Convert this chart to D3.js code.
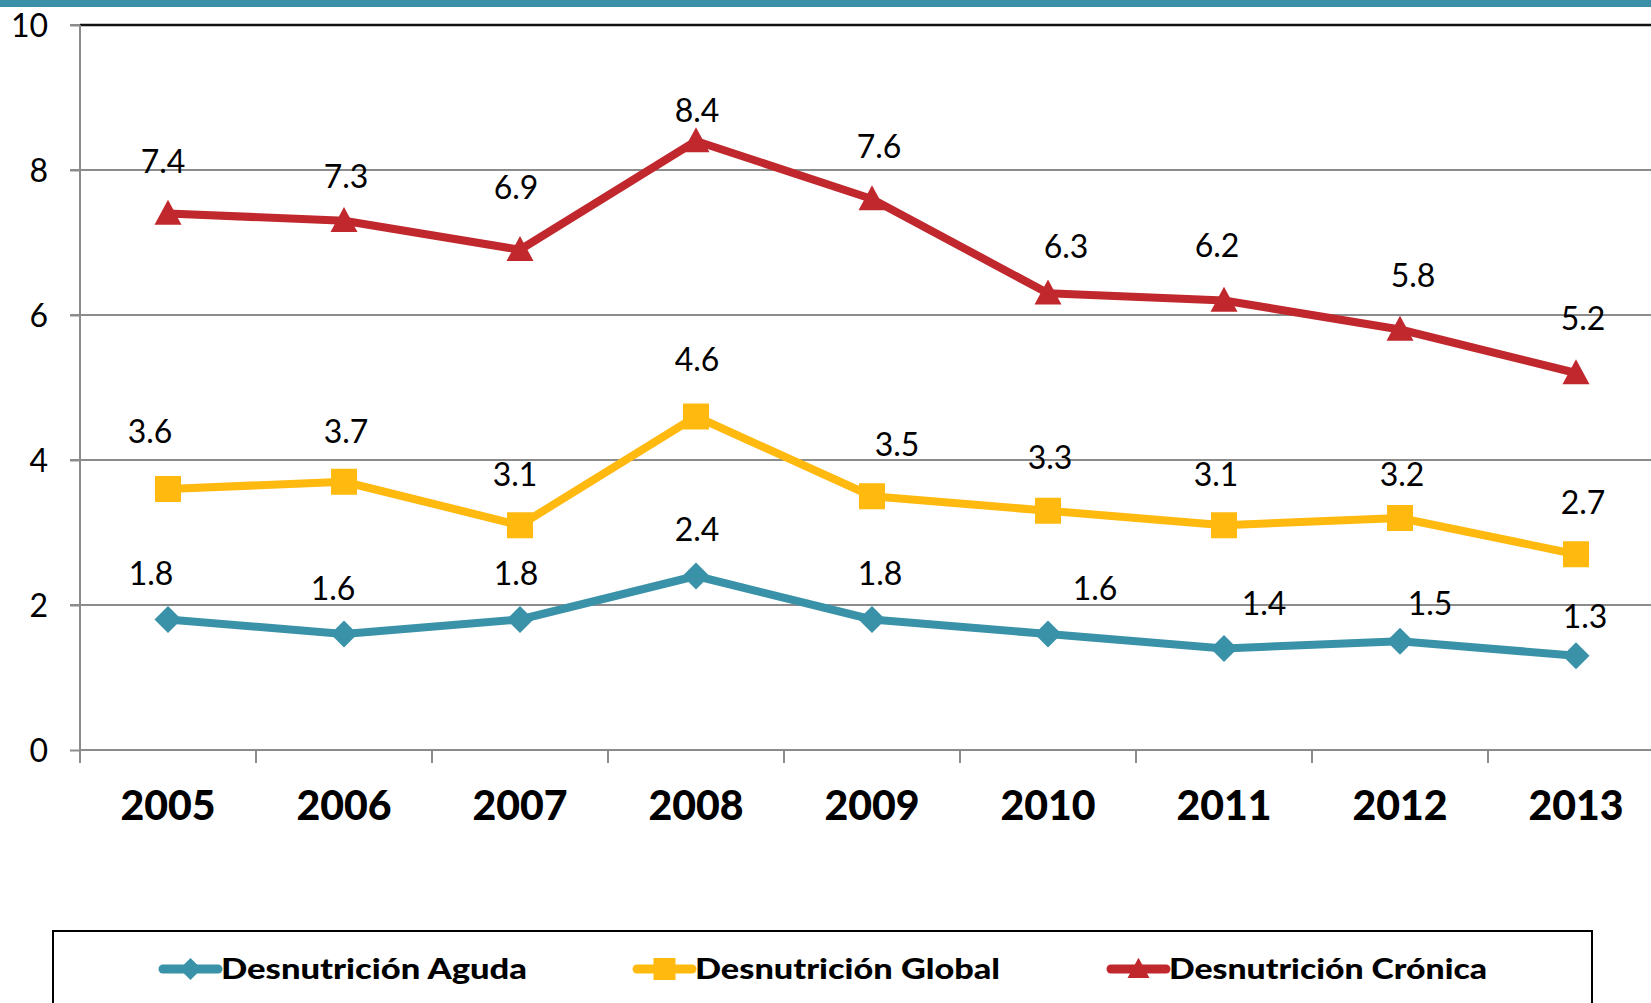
<!DOCTYPE html>
<html>
<head>
<meta charset="utf-8">
<script src="https://cdn.jsdelivr.net/npm/d3@7"></script>
<style>
  html, body { margin: 0; padding: 0; background: #fff; }
  svg { display: block; }
  text { font-family: Lato, "Noto Sans", sans-serif; }
</style>
</head>
<body>
<svg id="chart" width="1651" height="1003"></svg>
<script>
// ---- data ----
const years = ["2005", "2006", "2007", "2008", "2009", "2010", "2011", "2012", "2013"];
const seriesNames = ["Desnutrición Aguda", "Desnutrición Global", "Desnutrición Crónica"];
const aguda   = [1.8, 1.6, 1.8, 2.4, 1.8, 1.6, 1.4, 1.5, 1.3];
const global  = [3.6, 3.7, 3.1, 4.6, 3.5, 3.3, 3.1, 3.2, 2.7];
const cronica = [7.4, 7.3, 6.9, 8.4, 7.6, 6.3, 6.2, 5.8, 5.2];
const yTicks  = [0, 2, 4, 6, 8, 10];

// ---- styling / label placement (not data) ----
const colors  = ["#3a92a8", "#ffb90f", "#c1282d"];
const markers = ["diamond", "square", "triangle"];
const labelOffsets = [
  [[-17,-46],[-11,-46],[-4,-46],[1,-47],[8,-46],[47,-46],[40,-45],[30,-38],[9,-39]],
  [[-18,-58],[2,-50],[-5,-51],[1,-57],[25,-52],[2,-53],[-8,-51],[2,-44],[7,-52]],
  [[-5,-52],[2,-44],[-4,-62],[1,-31],[7,-53],[18,-47],[-7,-55],[13,-54],[7,-55]]
];
const seriesValues = [aguda, global, cronica];

const svg = d3.select("#chart");

// top band
svg.append("rect").attr("x", 0).attr("y", 0).attr("width", 1651).attr("height", 7).attr("fill", "#3a91a7");

const pLeft = 80, pRight = 1664, pTop = 25, pBottom = 750;
const x = d3.scaleBand().domain(years).range([pLeft, pRight]);
const y = d3.scaleLinear().domain([0, 10]).range([pBottom, pTop]);
const cx = d => x(d) + x.bandwidth() / 2;

// gridlines
svg.append("g").selectAll("line").data(yTicks.filter(t => t > 0 && t < 10)).join("line")
  .attr("x1", pLeft - 10).attr("x2", pRight)
  .attr("y1", d => y(d)).attr("y2", d => y(d))
  .attr("stroke", "#8c8c8c").attr("stroke-width", 2);

// top border (y = 10)
svg.append("line").attr("x1", pLeft - 10).attr("x2", pLeft).attr("y1", y(10)).attr("y2", y(10))
  .attr("stroke", "#8c8c8c").attr("stroke-width", 2);
svg.append("line").attr("x1", pLeft).attr("x2", pRight).attr("y1", y(10)).attr("y2", y(10))
  .attr("stroke", "#111").attr("stroke-width", 2.5);

// y axis
const yAxis = svg.append("g").attr("transform", `translate(${pLeft},0)`)
  .call(d3.axisLeft(y).tickValues(yTicks).tickSize(10).tickPadding(22).tickFormat(d3.format("d")));
yAxis.select(".domain").attr("stroke", "#8c8c8c").attr("stroke-width", 2)
  .attr("d", `M0,${pTop}V${pBottom + 13}`);
yAxis.selectAll(".tick line").attr("stroke", "#8c8c8c").attr("stroke-width", 2);
yAxis.selectAll(".tick text").attr("font-size", 32).attr("fill", "#000")
  .attr("font-family", "Lato, 'Noto Sans', sans-serif").attr("dy", "0.36em");

// x axis
const xAxis = svg.append("g").attr("transform", `translate(0,${pBottom})`)
  .call(d3.axisBottom(x).tickSize(0).tickPadding(0));
xAxis.select(".domain").attr("stroke", "#8c8c8c").attr("stroke-width", 2)
  .attr("d", `M${pLeft},0H${pRight}`);
xAxis.selectAll(".tick text").attr("font-size", 41).attr("font-weight", 900).attr("fill", "#000")
  .attr("font-family", "Lato, 'Noto Sans', sans-serif").attr("y", 70).attr("dy", 0);
// category boundary ticks
svg.append("g").selectAll("line").data(d3.range(years.length + 1)).join("line")
  .attr("x1", i => pLeft + i * x.step()).attr("x2", i => pLeft + i * x.step())
  .attr("y1", pBottom).attr("y2", pBottom + 13)
  .attr("stroke", "#8c8c8c").attr("stroke-width", 2);

// marker drawing
function marker(sel, type, color, size) {
  if (type === "diamond") {
    sel.append("path").attr("d", `M0,${-size/2}L${size/2},0L0,${size/2}L${-size/2},0Z`).attr("fill", color);
  } else if (type === "square") {
    sel.append("rect").attr("x", -size/2).attr("y", -size/2).attr("width", size).attr("height", size).attr("fill", color);
  } else {
    const h = size * 0.92;
    sel.append("path").attr("d", `M0,${-h*0.55}L${size/2},${h*0.45}L${-size/2},${h*0.45}Z`).attr("fill", color);
  }
}

const line = d3.line().x((d, i) => cx(years[i])).y(d => y(d));
const sizes = [27, 26, 27];

seriesValues.forEach((vals, s) => {
  const g = svg.append("g");
  g.append("path").datum(vals).attr("d", line).attr("fill", "none")
    .attr("stroke", colors[s]).attr("stroke-width", 8).attr("stroke-linejoin", "round");
  g.selectAll("g.m").data(vals).join("g").attr("class", "m")
    .attr("transform", (d, i) => `translate(${cx(years[i])},${y(d)})`)
    .each(function () { marker(d3.select(this), markers[s], colors[s], sizes[s]); });
  g.selectAll("text").data(vals).join("text")
    .attr("x", (d, i) => cx(years[i]) + labelOffsets[s][i][0])
    .attr("y", (d, i) => y(d) + labelOffsets[s][i][1] + 11.5)
    .attr("text-anchor", "middle").attr("font-size", 32).attr("fill", "#000")
    .text(d => d3.format(".1f")(d));
});

// legend
svg.append("rect").attr("x", 53).attr("y", 931).attr("width", 1539).attr("height", 100)
  .attr("fill", "none").attr("stroke", "#000").attr("stroke-width", 2);
const legendX = [163, 637, 1111];
const legendTextW = [306, 305, 318];
seriesNames.forEach((name, s) => {
  const g = svg.append("g").attr("transform", `translate(${legendX[s]},969)`);
  g.append("line").attr("x1", 0).attr("x2", 55).attr("y1", 0).attr("y2", 0)
    .attr("stroke", colors[s]).attr("stroke-width", 9).attr("stroke-linecap", "round");
  const m = g.append("g").attr("transform", "translate(27.5,0)");
  marker(m, markers[s], colors[s], 22);
  g.append("text").attr("x", 58).attr("y", 10).attr("font-size", 29).attr("font-weight", 900)
    .attr("fill", "#000").attr("textLength", legendTextW[s]).attr("lengthAdjust", "spacingAndGlyphs")
    .text(name);
});
</script>
</body>
</html>
